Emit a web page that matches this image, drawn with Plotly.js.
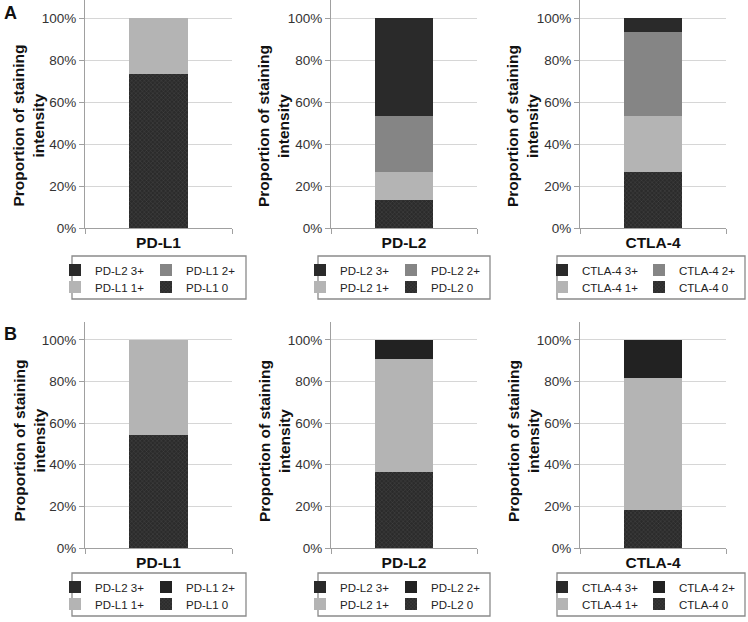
<!DOCTYPE html>
<html>
<head>
<meta charset="utf-8">
<script src="https://cdn.plot.ly/plotly-3.0.1.min.js"></script>
<style>html,body{margin:0;padding:0;background:#fff;}#chart{width:748px;height:622px;}</style>
</head>
<body>
<div id="chart"></div>
<script>
// ---- data ----
const markers = ["PD-L1", "PD-L2", "CTLA-4"];
const panelLetters = ["A", "B"];
// proportion (%) of each staining intensity, panel A
const A_int0 = [73.3, 13.3, 26.7];
const A_int1 = [26.7, 13.3, 26.7];
const A_int2 = [0, 26.7, 40.0];
const A_int3 = [0, 46.7, 6.7];
// panel B
const B_int0 = [54.5, 36.4, 18.2];
const B_int1 = [45.5, 54.5, 63.6];
const B_int2 = [0, 9.1, 18.2];
const B_int3 = [0, 0, 0];
// legend labels per marker (as printed)
const legendLabels = [
  ["PD-L2 3+", "PD-L1 2+", "PD-L1 1+", "PD-L1 0"],
  ["PD-L2 3+", "PD-L2 2+", "PD-L2 1+", "PD-L2 0"],
  ["CTLA-4 3+", "CTLA-4 2+", "CTLA-4 1+", "CTLA-4 0"]
];
const yTickVals = [0, 20, 40, 60, 80, 100];
const yTickText = ["0%", "20%", "40%", "60%", "80%", "100%"];
const yTitle = "Proportion of staining<br>intensity";

// ---- styling ----
const FONT = "Liberation Sans, Arial, sans-serif";
const W = 748, H = 622;
const px = v => v / W;
const py = v => 1 - v / H;
const colX = [[85, 232], [331, 477], [580, 726]];
const rowY = [[0, 228], [322, 548]];
const titleX = [28.5, 274, 523];
const titleY = [126, 441];
const legendTextX = [95, 340, 582];
const legendRowsY = [[270, 287], [587, 604]];
const legendBoxX = [[72, 246], [318, 490], [557, 745]];
const legendBoxY = [[256, 299], [573, 616]];
const colors = {
  A: ["#2b2b2b", "#b4b4b4", "#858585", "#2a2a2a"],
  B: ["#2b2b2b", "#b4b4b4", "#222222", "#2a2a2a"]
};

const seriesByPanel = {
  A: [A_int0, A_int1, A_int2, A_int3],
  B: [B_int0, B_int1, B_int2, B_int3]
};

const data = [];
const layout = {
  width: W, height: H,
  margin: {l: 0, r: 0, t: 0, b: 0, autoexpand: false},
  paper_bgcolor: "#fff", plot_bgcolor: "#fff",
  barmode: "stack",
  font: {family: FONT, color: "#222"},
  showlegend: true,
  shapes: [], annotations: []
};

for (let r = 0; r < 2; r++) {
  const key = panelLetters[r];
  for (let c = 0; c < 3; c++) {
    const i = r * 3 + c;
    const k = i + 1;
    const xName = k === 1 ? "xaxis" : "xaxis" + k;
    const yName = k === 1 ? "yaxis" : "yaxis" + k;
    const xRef = k === 1 ? "x" : "x" + k;
    const yRef = k === 1 ? "y" : "y" + k;
    const legA = (i * 2 + 1) === 1 ? "legend" : "legend" + (i * 2 + 1);
    const legB = "legend" + (i * 2 + 2);
    const series = seriesByPanel[key];
    // stacking order bottom->top: 0, 1+, 2+, 3+
    for (let s = 0; s < 4; s++) {
      const labelIdx = 3 - s; // labels listed 3+,2+,1+,0
      const trace = {
        type: "bar",
        x: [markers[c]],
        y: [series[s][c]],
        name: legendLabels[c][labelIdx],
        xaxis: xRef, yaxis: yRef,
        width: 0.4,
        legend: (s >= 2) ? legA : legB,
        legendrank: labelIdx + 1,
        hoverinfo: "none",
        marker: {color: colors[key][s], line: {width: 0}}
      };
      if (s === 0) {
        trace.marker.pattern = {shape: "x", size: 3, solidity: 0.25, fgcolor: "#4a4a4a", bgcolor: "#2b2b2b", fillmode: "replace"};
      }
      data.push(trace);
    }
    layout[xName] = {
      domain: [px(colX[c][0]), px(colX[c][1])],
      anchor: yRef,
      type: "category",
      range: [-0.5, 0.5],
      showline: true, linecolor: "#a0a0a0", linewidth: 1,
      ticks: "outside", tickson: "boundaries", ticklen: 5, tickcolor: "#a0a0a0",
      showgrid: false, zeroline: false,
      tickfont: {family: FONT, size: 15.5, color: "#111", weight: "bold"},
      fixedrange: true
    };
    layout[yName] = {
      domain: [py(rowY[r][1]), py(rowY[r][0])],
      anchor: xRef,
      range: [0, 108.6],
      tickmode: "array",
      tickvals: yTickVals,
      ticktext: yTickText,
      showgrid: true, gridcolor: "#d6d6d6", gridwidth: 1,
      showline: true, linecolor: "#a0a0a0", linewidth: 1,
      ticks: "outside", ticklen: 5, tickcolor: "#a0a0a0",
      zeroline: false,
      tickfont: {family: FONT, size: 13.5, color: "#333"},
      automargin: false,
      fixedrange: true
    };
    // y-axis title (placed as rotated text next to the axis)
    layout.annotations.push({
      text: yTitle, xref: "paper", yref: "paper",
      x: px(titleX[c]), y: py(titleY[r]), xanchor: "center", yanchor: "middle",
      textangle: -90, showarrow: false, align: "center",
      font: {family: FONT, size: 15.5, color: "#111", weight: "bold"}
    });
    const legCommon = {
      orientation: "h", xanchor: "left", yanchor: "middle",
      x: px(legendTextX[c] - 40),
      bgcolor: "rgba(0,0,0,0)", borderwidth: 0,
      font: {family: FONT, size: 11.5, color: "#222"},
      traceorder: "normal",
      itemclick: false, itemdoubleclick: false,
      entrywidth: c === 2 ? 52 : 46, entrywidthmode: "pixels"
    };
    layout[legA] = Object.assign({}, legCommon, {y: py(legendRowsY[r][0])});
    layout[legB] = Object.assign({}, legCommon, {y: py(legendRowsY[r][1])});
    layout.shapes.push({
      type: "rect", xref: "paper", yref: "paper",
      x0: px(legendBoxX[c][0]), x1: px(legendBoxX[c][1]),
      y0: py(legendBoxY[r][1]), y1: py(legendBoxY[r][0]),
      line: {color: "#8a8a8a", width: 1.3}, fillcolor: "rgba(0,0,0,0)", layer: "above"
    });
  }
  layout.annotations.push({
    text: panelLetters[r], xref: "paper", yref: "paper",
    x: px(2), y: py(r === 0 ? 1 : 322), xanchor: "left", yanchor: "top",
    showarrow: false, font: {family: FONT, size: 18, color: "#111", weight: "bold"}
  });
}

Plotly.newPlot("chart", data, layout, {staticPlot: true, displayModeBar: false});
</script>
</body>
</html>
